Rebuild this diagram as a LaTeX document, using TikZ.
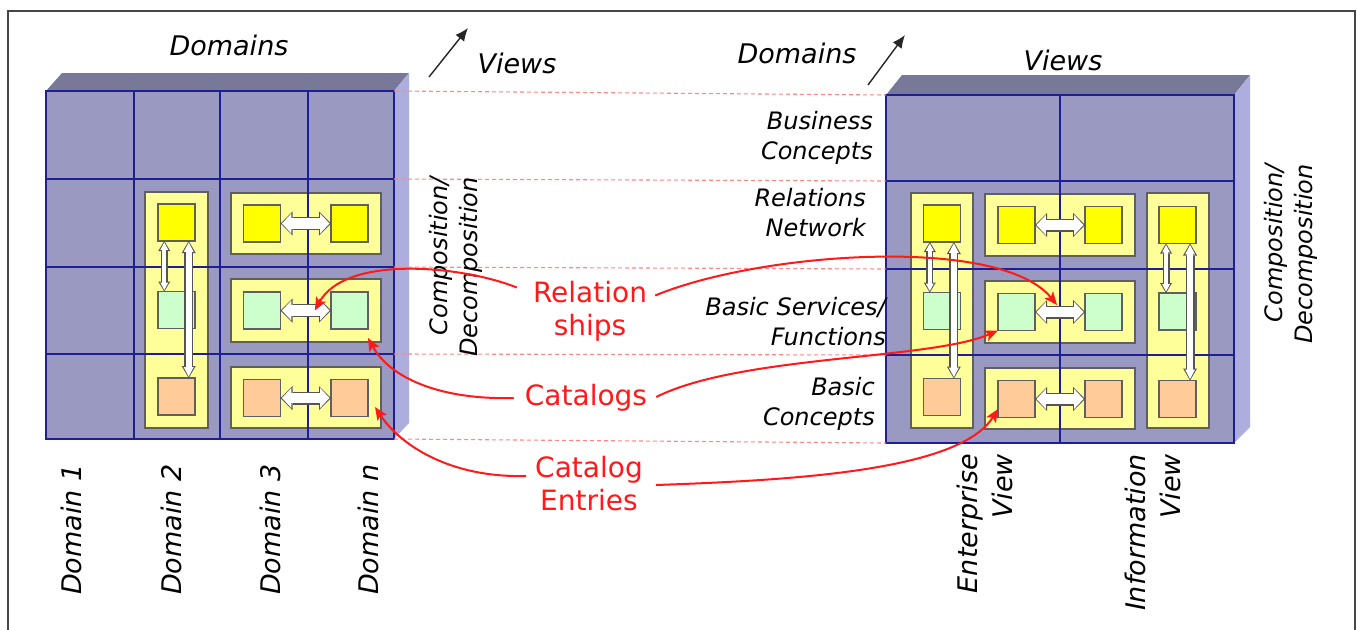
\documentclass[tikz,border=0pt]{standalone}
\usepackage{fontspec}
\setmainfont{DejaVu Sans}
\usetikzlibrary{arrows.meta,calc}
\definecolor{faceF}{RGB}{153,153,194}
\definecolor{faceT}{RGB}{120,120,152}
\definecolor{faceS}{RGB}{174,174,222}
\definecolor{gridc}{RGB}{30,30,150}
\definecolor{contY}{RGB}{255,255,153}
\definecolor{sqY}{RGB}{255,255,0}
\definecolor{sqG}{RGB}{204,255,204}
\definecolor{sqO}{RGB}{255,204,153}
\definecolor{edgeg}{RGB}{95,95,95}
\definecolor{arrg}{RGB}{85,85,85}
\definecolor{redc}{RGB}{255,25,25}
\definecolor{dashc}{RGB}{255,135,135}
\definecolor{framec}{RGB}{70,70,70}
\newcommand\fatarr[5]{%
  \pgfmathsetmacro\fatBi{#3-2.6}%
  \pgfmathsetmacro\fatHi{#4-4}%
  \pgfmathsetmacro\fatLi{#5-2.6}%
  \draw[draw=arrg, line width=#3pt, {Triangle[length=#5pt,width=#4pt,line width=0pt]}-{Triangle[length=#5pt,width=#4pt,line width=0pt]}] #1 -- #2;
  \draw[draw=white, line width=\fatBi pt, shorten <=1.5pt, shorten >=1.5pt, {Triangle[length=\fatLi pt,width=\fatHi pt,line width=0pt]}-{Triangle[length=\fatLi pt,width=\fatHi pt,line width=0pt]}] #1 -- #2;
}
\tikzset{
  sq/.style={draw=edgeg, line width=1.2pt, minimum width=37pt, minimum height=37pt, inner sep=0pt, outer sep=0pt},
  cont/.style={draw=edgeg, line width=1.2pt, fill=contY},
  gridl/.style={draw=gridc, line width=1.7pt},
  dashl/.style={draw=dashc, line width=1.1pt, dash pattern=on 4pt off 3pt},
  blk/.style={draw=black!85, line width=1.4pt, -{Latex[length=13pt,width=11pt]}},
  redl/.style={draw=redc, line width=2pt, -{Stealth[length=13pt,width=11pt,inset=3pt]}},
  ttl/.style={font=\fontsize{27}{33}\selectfont\itshape, inner sep=0pt},
  lbl/.style={font=\fontsize{24}{30}\selectfont\itshape, align=right, inner sep=0pt},
  rtxt/.style={font=\fontsize{28}{33}\selectfont, text=redc, align=center, inner sep=0pt},
  dl/.style={font=\fontsize{27}{33}\selectfont\itshape, rotate=90, anchor=west, inner sep=0pt},
  dltwo/.style={font=\fontsize{27}{35}\selectfont\itshape, rotate=90, anchor=east, align=right, inner sep=0pt}
}
\begin{document}
\begin{tikzpicture}[x=1pt,y=-1pt]
\useasboundingbox (0,0) rectangle (1357,629);
\fill[white] (0,0) rectangle (1357,629);
\draw[draw=framec, line width=1.4pt] (8,640) -- (8,11) -- (1355,11) -- (1355,640);

% left block faces
\fill[faceT] (46,91) -- (62,73) -- (409,73) -- (394,91) -- cycle;
\fill[faceS] (394,91) -- (409,73) -- (409,423) -- (394,439) -- cycle;
\fill[faceF] (46,91) rectangle (394,439);
% right block faces
\fill[faceT] (886,95) -- (902,75) -- (1250,75) -- (1234,95) -- cycle;
\fill[faceS] (1234,95) -- (1250,75) -- (1250,427) -- (1234,443) -- cycle;
\fill[faceF] (886,95) rectangle (1234,443);

% containers
\draw[cont] (145,192) rectangle (208,428);
\draw[cont] (231,193) rectangle (381,254);
\draw[cont] (231,279) rectangle (381,342);
\draw[cont] (231,367) rectangle (381,428);
\draw[cont] (911,193) rectangle (973,428);
\draw[cont] (985,194) rectangle (1135,256);
\draw[cont] (985,281) rectangle (1135,343);
\draw[cont] (985,368) rectangle (1135,429);
\draw[cont] (1147,193) rectangle (1209,428);

% grid lines
\draw[gridl] (46,91) rectangle (394,439);
\foreach \x in {134,220,308} \draw[gridl] (\x,91) -- (\x,439);
\foreach \y in {179,267,354} \draw[gridl] (46,\y) -- (394,\y);
\draw[gridl] (886,95) rectangle (1234,443);
\draw[gridl] (1060,95) -- (1060,443);
\foreach \y in {181,269,355} \draw[gridl] (886,\y) -- (1234,\y);

% dashed guide lines
\foreach \a/\b in {91/95,179/181,267/269,354/355,439/443} \draw[dashl] (394,\a) -- (886,\b);

% squares left
\node[sq,fill=sqY] (LY2) at (176.5,222.5) {};
\node[sq,fill=sqG] (LG2) at (176.5,310) {};
\node[sq,fill=sqO] (LO2) at (176.5,396.5) {};
\node[sq,fill=sqY] (LY3) at (262,223.5) {};
\node[sq,fill=sqY] (LYn) at (349.5,223.5) {};
\node[sq,fill=sqG] (LG3) at (262,310.5) {};
\node[sq,fill=sqG] (LGn) at (349.5,310.5) {};
\node[sq,fill=sqO] (LO3) at (262,398) {};
\node[sq,fill=sqO] (LOn) at (349.5,398) {};
% squares right
\node[sq,fill=sqY] (RYa) at (942,223.5) {};
\node[sq,fill=sqG] (RGa) at (942,311) {};
\node[sq,fill=sqO] (ROa) at (942,397) {};
\node[sq,fill=sqY] (RYb) at (1016.5,225) {};
\node[sq,fill=sqY] (RYc) at (1103.5,225) {};
\node[sq,fill=sqG] (RGb) at (1016.5,312) {};
\node[sq,fill=sqG] (RGc) at (1103.5,312) {};
\node[sq,fill=sqO] (ROb) at (1016.5,399) {};
\node[sq,fill=sqO] (ROc) at (1103.5,399) {};
\node[sq,fill=sqY] (RYd) at (1177.5,225) {};
\node[sq,fill=sqG] (RGd) at (1177.5,311.5) {};
\node[sq,fill=sqO] (ROd) at (1177.5,399) {};

% white double arrows
\fatarr{(LY3.east)}{(LYn.west)}{13}{24}{12}
\fatarr{(LG3.east)}{(LGn.west)}{13}{24}{12}
\fatarr{(LO3.east)}{(LOn.west)}{13}{24}{12}
\fatarr{(RYb.east)}{(RYc.west)}{13}{24}{12}
\fatarr{(RGb.east)}{(RGc.west)}{13}{24}{12}
\fatarr{(ROb.east)}{(ROc.west)}{13}{24}{12}
\fatarr{($(LY2.south west)!0.17!(LY2.south east)$)}{($(LG2.north west)!0.17!(LG2.north east)$)}{7}{12}{10}
\fatarr{($(LY2.south west)!0.83!(LY2.south east)$)}{($(LO2.north west)!0.83!(LO2.north east)$)}{9}{14}{12}
\fatarr{($(RYa.south west)!0.17!(RYa.south east)$)}{($(RGa.north west)!0.17!(RGa.north east)$)}{7}{12}{10}
\fatarr{($(RYa.south west)!0.82!(RYa.south east)$)}{($(ROa.north west)!0.82!(ROa.north east)$)}{9}{14}{12}
\fatarr{($(RYd.south west)!0.19!(RYd.south east)$)}{($(RGd.north west)!0.19!(RGd.north east)$)}{7}{12}{10}
\fatarr{($(RYd.south west)!0.84!(RYd.south east)$)}{($(ROd.north west)!0.84!(ROd.north east)$)}{9}{14}{12}

% axis arrows
\coordinate (vaL0) at (429,77); \coordinate (vaL1) at (468,28);
\coordinate (vaR0) at (868,85); \coordinate (vaR1) at (905,35);
\draw[blk] (vaL0) -- (vaL1);
\draw[blk] (vaR0) -- (vaR1);

% titles
\node[ttl] (domL) at (229,45) {Domains};
\node[ttl] (viewL) at (517,63) {Views};
\node[ttl] (domR) at (797,53) {Domains};
\node[ttl] (viewR) at (1063,60) {Views};

% row labels
\node[lbl, anchor=east] (bc) at (873,138) {Business\\Concepts};
\node[lbl, anchor=east] (rn) at (866,213) {Relations\\Network};
\node[lbl, anchor=east] (bs) at (886,322) {Basic Services/\\Functions};
\node[lbl, anchor=east] (bcc) at (875,403.5) {Basic\\Concepts};

% composition labels
\node[lbl, rotate=90, anchor=east] (cdL) at (456,177) {Composition/\\Decomposition};
\node[lbl, rotate=90, anchor=east] (cdR) at (1291,164) {Composition/\\Decomposition};

% bottom labels
\node[dl] (d1) at (71,595) {Domain 1};
\node[dl] (d2) at (171,595) {Domain 2};
\node[dl] (d3) at (270,595) {Domain 3};
\node[dl] (dn) at (368,595) {Domain n};
\node[dltwo] (ev) at (985,454) {Enterprise\\View};
\node[dltwo] (iv) at (1153,454) {Information\\View};

% red labels
\node[rtxt] (rel) at (590,311.5) {Relation\\ships};
\node[rtxt] (cat) at (586,398) {Catalogs};
\node[rtxt] (ent) at (589,484) {Catalog\\Entries};

\coordinate (relL) at ($(rel.west)+(-16,-24)$);
\coordinate (relR) at ($(rel.east)+(8,-16)$);
\coordinate (catL) at ($(cat.west)+(-11,0)$);
\coordinate (catR) at ($(cat.east)+(9,-1)$);
\coordinate (entL) at ($(ent.west)+(-9,-8)$);
\coordinate (entR) at ($(ent.east)+(13,1)$);
\coordinate (tRelL) at ($(LG3.east)!0.68!(LGn.west)$);
\coordinate (tCatL) at ($(LGn.south east)+(0,9)$);
\coordinate (tEntL) at ($(LOn.east)+(7,9)$);
\coordinate (tRelR) at ($(RGb.east)!0.44!(RGc.west)+(0,-7)$);
\coordinate (tCatR) at (RGb.south west);
\coordinate (tEntR) at ($(ROb.west)+(0,10)$);

\draw[redl] (relL) .. controls (460,265) and (345,255) .. (tRelL);
\draw[redl] (relR) .. controls (760,252) and (1000,235) .. (tRelR);
\draw[redl] (catL) .. controls (440,400) and (390,378) .. (tCatL);
\draw[redl] (catR) .. controls (740,355) and (930,360) .. (tCatR);
\draw[redl] (entL) .. controls (450,478) and (400,445) .. (tEntL);
\draw[redl] (entR) .. controls (800,480) and (960,470) .. (tEntR);
\end{tikzpicture}
\end{document}
